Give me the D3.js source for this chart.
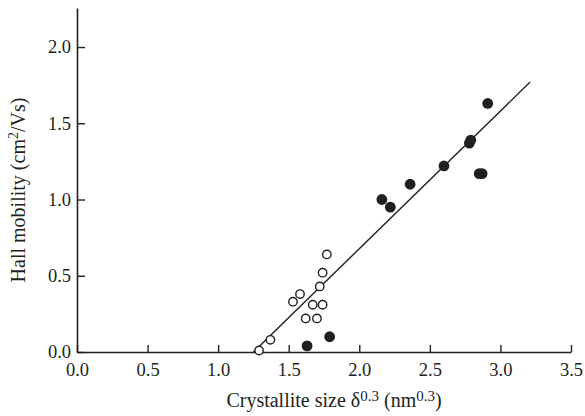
<!DOCTYPE html>
<html>
<head>
<meta charset="utf-8">
<script src="https://cdn.jsdelivr.net/npm/d3@7"></script>
<style>
  body { margin: 0; background: white; }
  text { font-family: "Liberation Serif", "DejaVu Serif", serif; fill: #231f20; }
</style>
</head>
<body>
<div class="chart"></div>
<script>
// open circles (small crystallites)
let openX = [1.77, 1.74, 1.72, 1.58, 1.53, 1.67, 1.74, 1.62, 1.70, 1.37, 1.29];
let openY = [0.64, 0.52, 0.43, 0.38, 0.33, 0.31, 0.31, 0.22, 0.22, 0.08, 0.01];

// filled circles
let fillX = [1.63, 1.79, 2.16, 2.22, 2.36, 2.60, 2.78, 2.79, 2.85, 2.87, 2.91];
let fillY = [0.04, 0.10, 1.00, 0.95, 1.10, 1.22, 1.37, 1.39, 1.17, 1.17, 1.63];

// fitted line end points
let fitX = [1.25, 3.21];
let fitY = [0.0, 1.77];

let xTicks = [0, 0.5, 1.0, 1.5, 2.0, 2.5, 3.0, 3.5];
let yTicks = [0, 0.5, 1.0, 1.5, 2.0];

let ink = "#231f20";

let svg = d3
    .select(".chart")
    .append("svg")
    .attr("width", 585)
    .attr("height", 416)
    .style("background-color", "white");

let x = d3.scaleLinear()
    .domain([0, 3.5])
    .range([77, 571]);

let y = d3.scaleLinear()
    .domain([0, 2.256])
    .range([352, 8]);

// axes
let xAxis = svg.append("g")
    .attr("transform", "translate(0," + y(0) + ")")
    .call(d3.axisBottom(x)
        .tickValues(xTicks)
        .tickSizeInner(-7)
        .tickSizeOuter(0)
        .tickPadding(11)
        .tickFormat(d3.format(".1f")));

let yAxis = svg.append("g")
    .attr("transform", "translate(" + x(0) + ",0)")
    .call(d3.axisLeft(y)
        .tickValues(yTicks)
        .tickSizeInner(-8)
        .tickSizeOuter(0)
        .tickPadding(6)
        .tickFormat(d3.format(".1f")));

[xAxis, yAxis].forEach(function (a) {
    a.select(".domain").attr("stroke", ink).attr("stroke-width", 1.6);
    a.selectAll(".tick line").attr("stroke", ink).attr("stroke-width", 1.4);
    a.selectAll(".tick text")
        .style("font-family", "Liberation Serif")
        .style("font-size", "18.5px")
        .attr("fill", ink);
});

// fit line
let fit = fitX.map(function (d, i) { return [d, fitY[i]]; });
svg.append("path")
    .datum(fit)
    .attr("fill", "none")
    .attr("stroke", ink)
    .attr("stroke-width", 1.4)
    .attr("d", d3.line()
        .x(function (d) { return x(d[0]); })
        .y(function (d) { return y(d[1]); }));

// points
svg.append("g")
    .selectAll("circle")
    .data(openX)
    .enter()
    .append("circle")
    .attr("cx", function (d) { return x(d); })
    .attr("cy", function (d, i) { return y(openY[i]); })
    .attr("r", 4.2)
    .attr("fill", "white")
    .attr("stroke", ink)
    .attr("stroke-width", 1.4);

svg.append("g")
    .selectAll("circle")
    .data(fillX)
    .enter()
    .append("circle")
    .attr("cx", function (d) { return x(d); })
    .attr("cy", function (d, i) { return y(fillY[i]); })
    .attr("r", 5.4)
    .attr("fill", ink);

// axis titles
let xt = svg.append("text")
    .attr("x", 334)
    .attr("y", 407)
    .attr("text-anchor", "middle")
    .style("font-size", "20px");
xt.append("tspan").text("Crystallite size \u03b4");
xt.append("tspan").attr("dy", -6).style("font-size", "15px").text("0.3");
xt.append("tspan").attr("dy", 6).text(" (nm");
xt.append("tspan").attr("dy", -6).style("font-size", "15px").text("0.3");
xt.append("tspan").attr("dy", 6).text(")");

let yt = svg.append("text")
    .attr("transform", "translate(25,190) rotate(-90)")
    .attr("text-anchor", "middle")
    .style("font-size", "20px");
yt.append("tspan").text("Hall mobility (cm");
yt.append("tspan").attr("dy", -7).style("font-size", "14px").text("2");
yt.append("tspan").attr("dy", 7).text("/Vs)");
</script>
</body>
</html>
